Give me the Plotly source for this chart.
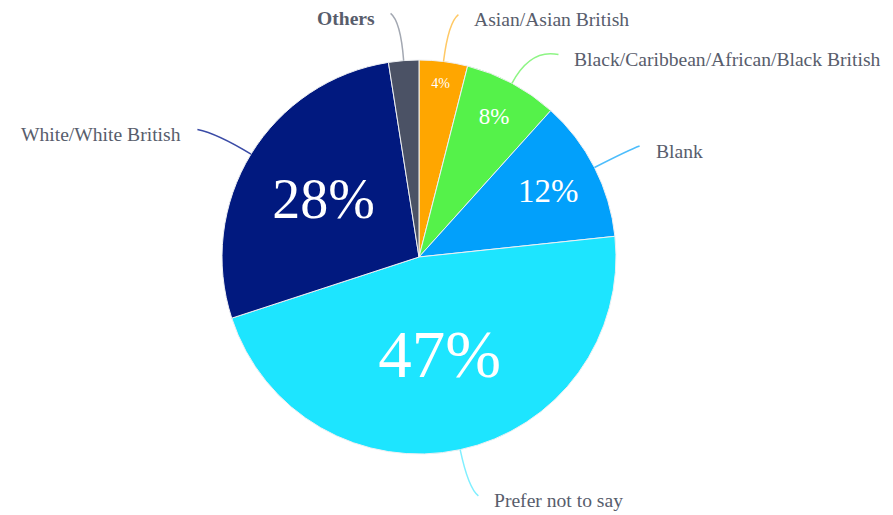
import math
import plotly.graph_objects as go

# ethnicity breakdown (counts), clockwise from 12 o'clock
labels = ["Asian/Asian British", "Black/Caribbean/African/Black British", "Blank",
          "Prefer not to say", "White/White British", "Others"]
counts = [16, 31, 47, 188, 111, 10]
colors = ["#ffa600", "#55f24a", "#02a0fb", "#1de5ff", "#01197f", "#4b5265"]
line_colors = ["#ffc966", "#8ef585", "#4cbdfc", "#80efff", "#3a4ba6", "#a3a8b2"]

W, H = 893, 515
OFF = 8  # page body margin
CX, CY, R = 419, 257, 197  # in screenshot pixels

# small nudges for leader-line ends (screenshot px)
nudges = {"Black/Caribbean/African/Black British": (18, 13),
          "White/White British": (-10, 0)}

total = sum(counts)
pct_text = [f"{round(c / total * 100)}%" for c in counts]
pct_text[-1] = ""  # Others is too thin for a label
text_sizes = [14, 23, 33, 67, 56, 1]

fig = go.Figure()
fig.add_trace(go.Pie(
    labels=labels, values=counts, sort=False, direction="clockwise", rotation=0,
    text=pct_text, textinfo="text", textposition="inside",
    insidetextorientation="horizontal",
    textfont=dict(family="Liberation Serif", color="white", size=text_sizes),
    marker=dict(colors=colors, line=dict(color="#eef0f3", width=1)),
    domain=dict(x=[(CX - OFF - R) / W, (CX - OFF + R) / W],
                y=[1 - (CY - OFF + R) / H, 1 - (CY - OFF - R) / H]),
    showlegend=False, hoverinfo="label+percent",
))


def px(x, y):
    return (x - OFF) / W, 1 - (y - OFF) / H


shapes, annotations = [], []
cum = 0
for lab, c, lc in zip(labels, counts, line_colors):
    mid = (cum + c / 2) / total * 2 * math.pi
    cum += c
    s, co = math.sin(mid), math.cos(mid)
    side = 1 if s >= 0 else -1
    x0, y0 = CX + R * s, CY - R * co
    qx, qy = CX + 1.2 * R * s, CY - 1.2 * R * co
    x1, y1 = qx + side * 10, CY - 1.24 * R * co
    dx, dy = nudges.get(lab, (0, 0))
    x1, y1 = x1 + dx, y1 + dy
    p0, pq, p1 = px(x0, y0), px(qx, qy), px(x1, y1)
    shapes.append(dict(
        type="path", xref="paper", yref="paper",
        path=f"M {p0[0]},{p0[1]} Q {pq[0]},{pq[1]} {p1[0]},{p1[1]}",
        line=dict(color=lc, width=1.5),
    ))
    tx, ty = px(x1 + side * 14, y1 + 5)
    annotations.append(dict(
        x=tx, y=ty, xref="paper", yref="paper", showarrow=False,
        text=f"<b>{lab}</b>" if lab == "Others" else lab,
        xanchor="left" if side > 0 else "right", yanchor="middle",
        font=dict(family="Liberation Serif", size=19.6, color="#585d6c"),
    ))

fig.update_layout(
    width=W, height=H, margin=dict(l=0, r=0, t=0, b=0),
    paper_bgcolor="white", plot_bgcolor="white",
    shapes=shapes, annotations=annotations,
)

fig.write_html("out.html")
